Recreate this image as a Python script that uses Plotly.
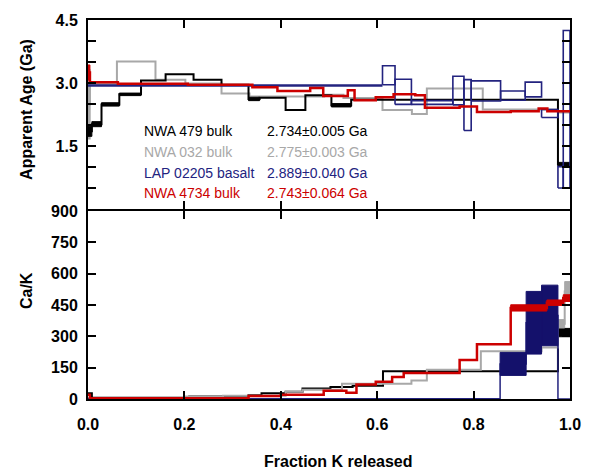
import plotly.graph_objects as go

# ---- Apparent age spectra (cumulative fraction of K released, age in Ga, 1-sigma half-height) ----
nwa479_f = [0, 0.008, 0.028, 0.065, 0.110, 0.161, 0.219, 0.277, 0.333, 0.356, 0.410, 0.451, 0.505, 0.546, 0.975, 1.0]
nwa479_age = [1.85, 2.02, 2.49, 2.73, 3.06, 3.21, 3.08, 2.96, 2.62, 2.65, 2.36, 2.71, 2.47, 2.60, 1.06]
nwa479_err = [0.12, 0.06, 0.04, 0.03, 0.02, 0.02, 0.02, 0.02, 0.04, 0.02, 0.02, 0.02, 0.04, 0.01, 0.05]

nwa032_f = [0, 0.004, 0.060, 0.140, 0.202, 0.277, 0.335, 0.490, 0.530, 0.611, 0.672, 0.703, 0.819, 0.975, 1.0]
nwa032_age = [2.49, 2.98, 3.51, 3.08, 2.99, 2.75, 2.68, 2.72, 2.64, 2.36, 2.26, 2.87, 2.37, 2.30]
nwa032_err = [0.82, 0.01, 0.01, 0.01, 0.01, 0.01, 0.01, 0.01, 0.01, 0.01, 0.01, 0.01, 0.01, 0.01]

lap02205_f = [0, 0.611, 0.637, 0.671, 0.757, 0.780, 0.795, 0.856, 0.907, 0.941, 0.975, 0.986, 1.0]
lap02205_age = [2.94, 3.185, 2.79, 2.535, 2.82, 2.475, 2.81, 2.70, 2.845, 2.275, 0.755, 2.375]
lap02205_err = [0.0, 0.225, 0.30, 0.045, 0.34, 0.605, 0.24, 0.11, 0.175, 0.095, 0.255, 1.875]

nwa4734_f = [0, 0.004, 0.062, 0.207, 0.341, 0.393, 0.461, 0.488, 0.539, 0.553, 0.597, 0.634, 0.679, 0.699,
             0.771, 0.807, 0.877, 0.935, 0.953, 1.0]
nwa4734_age = [3.25, 3.02, 2.98, 2.96, 2.90, 2.81, 2.88, 2.69, 2.83, 2.59, 2.66, 2.73, 2.71, 2.41, 2.44,
               2.31, 2.33, 2.39, 2.33]
nwa4734_err = [0.18, 0.01, 0.01, 0.01, 0.01, 0.01, 0.01, 0.01, 0.01, 0.01, 0.01, 0.01, 0.01, 0.01, 0.01,
               0.01, 0.01, 0.01, 0.01]

# ---- Ca/K spectra ----
nwa479_cak_f = [0, 0.008, 0.21, 0.333, 0.36, 0.41, 0.445, 0.503, 0.549, 0.612, 0.975, 1.0]
nwa479_cak = [27, 6, 12, 18, 28, 35, 50, 58, 64, 133, 318]
nwa479_cak_err = [0, 0, 0, 0, 0, 0, 0, 0, 0, 0, 20]

nwa032_cak_f = [0, 0.2, 0.28, 0.41, 0.445, 0.527, 0.671, 0.703, 0.815, 0.941, 0.975, 0.989, 1.0]
nwa032_cak = [5, 12, 16, 35, 44, 73, 89, 140, 228, 246, 360, 515]
nwa032_cak_err = [0, 0, 0, 0, 0, 0, 0, 0, 0, 0, 20, 47]

lap02205_cak_f = [0, 0.855, 0.909, 0.941, 0.975, 1.0]
lap02205_cak = [1, 168, 365, 400, 0]
lap02205_cak_err = [0, 55, 150, 145, 0]

nwa4734_cak_f = [0, 0.004, 0.333, 0.40, 0.489, 0.536, 0.557, 0.597, 0.631, 0.655, 0.771, 0.807, 0.877,
                 0.952, 0.986, 1.0]
nwa4734_cak = [20, 3, 14, 20, 39, 30, 69, 82, 105, 124, 187, 262, 436, 461, 483]
nwa4734_cak_err = [0, 0, 0, 0, 0, 0, 0, 0, 0, 0, 0, 0, 15, 13, 16]

# ---- Labels ----
sample_names = ["NWA 479 bulk", "NWA 032 bulk", "LAP 02205 basalt", "NWA 4734 bulk"]
plateau_ages = ["2.734±0.005 Ga", "2.775±0.003 Ga", "2.889±0.040 Ga", "2.743±0.064 Ga"]
x_ticks = [0.0, 0.2, 0.4, 0.6, 0.8, 1.0]
age_ticks = [0, 0.5, 1.0, 1.5, 2.0, 2.5, 3.0, 3.5, 4.0, 4.5]
age_labels = ["", "", "", "1.5", "", "", "3.0", "", "", "4.5"]
cak_ticks = [0, 150, 300, 450, 600, 750, 900]

BLACK = "#000000"
GRAY = "#a8a8a8"
NAVY = "#23237f"
NAVY_FILL = "#14116b"
RED = "#cc0000"

ARIAL = "Liberation Sans, Arial, sans-serif"


def steps(edges, vals):
    return list(edges), list(vals) + [vals[-1]]


def boxes(edges, vals, errs, min_err):
    xs, ys = [], []
    for i, v in enumerate(vals):
        e = errs[i]
        if e < min_err:
            continue
        x0, x1 = edges[i], edges[i + 1]
        xs += [x0, x1, x1, x0, x0, None]
        ys += [v - e, v - e, v + e, v + e, v - e, None]
    return xs, ys


fig = go.Figure()


def add_step(edges, vals, color, width, xa, ya):
    x, y = steps(edges, vals)
    fig.add_trace(go.Scatter(x=x, y=y, mode="lines", line=dict(color=color, width=width, shape="hv"),
                             xaxis=xa, yaxis=ya, hoverinfo="skip"))


def add_boxes(edges, vals, errs, min_err, color, width, xa, ya, fill=None):
    x, y = boxes(edges, vals, errs, min_err)
    if not x:
        return
    kw = {}
    if fill:
        kw = dict(fill="toself", fillcolor=fill)
    fig.add_trace(go.Scatter(x=x, y=y, mode="lines", line=dict(color=color, width=width),
                             xaxis=xa, yaxis=ya, hoverinfo="skip", **kw))


# Top panel: apparent age spectra
add_step(nwa032_f, nwa032_age, GRAY, 2, "x2", "y2")
add_boxes(nwa032_f, nwa032_age, nwa032_err, 0.1, GRAY, 1.5, "x2", "y2", fill=GRAY)
add_step(nwa479_f, nwa479_age, BLACK, 2, "x2", "y2")
add_boxes(nwa479_f, nwa479_age, nwa479_err, 0.03, BLACK, 1, "x2", "y2", fill=BLACK)
add_step(lap02205_f[:2], lap02205_age[:1], NAVY, 2.5, "x2", "y2")
add_boxes(lap02205_f, lap02205_age, lap02205_err, 0.01, NAVY, 1.6, "x2", "y2")
add_step(nwa4734_f, nwa4734_age, RED, 2.5, "x2", "y2")
add_boxes(nwa4734_f, nwa4734_age, nwa4734_err, 0.1, RED, 1, "x2", "y2", fill=RED)

# Bottom panel: Ca/K spectra
add_step(nwa479_cak_f, nwa479_cak, BLACK, 2, "x", "y")
add_boxes(nwa479_cak_f, nwa479_cak, nwa479_cak_err, 1, BLACK, 1, "x", "y", fill=BLACK)
add_step(nwa032_cak_f, nwa032_cak, GRAY, 2, "x", "y")
add_boxes(nwa032_cak_f, nwa032_cak, nwa032_cak_err, 1, GRAY, 1, "x", "y", fill=GRAY)
add_step(lap02205_cak_f, lap02205_cak, NAVY, 1.5, "x", "y")
add_boxes(lap02205_cak_f, lap02205_cak, lap02205_cak_err, 1, NAVY_FILL, 1, "x", "y", fill=NAVY_FILL)
add_step(nwa4734_cak_f, nwa4734_cak, RED, 2.5, "x", "y")
add_boxes(nwa4734_cak_f, nwa4734_cak, nwa4734_cak_err, 1, RED, 1, "x", "y", fill=RED)

# Sample key with plateau ages
key_colors = [BLACK, GRAY, NAVY, RED]
key_y = [1.86, 1.35, 0.86, 0.37]
for name, age, col, ky in zip(sample_names, plateau_ages, key_colors, key_y):
    fig.add_annotation(x=0.112, y=ky, xref="x2", yref="y2", text=name, showarrow=False,
                       xanchor="left", yanchor="middle", font=dict(family=ARIAL, size=14, color=col))
    fig.add_annotation(x=0.367, y=ky, xref="x2", yref="y2", text=age, showarrow=False,
                       xanchor="left", yanchor="middle", font=dict(family=ARIAL, size=14, color=col))

# Axis titles
fig.add_annotation(x=0.519, y=-0.164, xref="paper", yref="paper", text="Fraction K released",
                   showarrow=False, xanchor="center", yanchor="middle",
                   font=dict(family=ARIAL, size=16, color=BLACK, weight="bold"))
fig.add_annotation(x=-0.129, y=0.765, xref="paper", yref="paper", text="Apparent Age (Ga)",
                   showarrow=False, textangle=-90, xanchor="center", yanchor="middle",
                   font=dict(family=ARIAL, size=16, color=BLACK, weight="bold"))
fig.add_annotation(x=-0.129, y=0.287, xref="paper", yref="paper", text="Ca/K",
                   showarrow=False, textangle=-90, xanchor="center", yanchor="middle",
                   font=dict(family=ARIAL, size=16, color=BLACK, weight="bold"))

# Panels separated by a 2 px gap so that the two frame lines fall on the same row
split = 0.4987
gap = 1.0 / 383
axis_common = dict(showline=True, linecolor=BLACK, linewidth=2, mirror="ticks", ticks="inside",
                   ticklen=8, tickwidth=1.5, tickcolor=BLACK, showgrid=False, zeroline=False,
                   tickfont=dict(family=ARIAL, size=16, color=BLACK, weight="bold"))

fig.update_layout(
    width=593, height=474,
    margin=dict(l=88, r=16, t=16, b=75),
    paper_bgcolor="white", plot_bgcolor="white",
    showlegend=False,
    xaxis=dict(domain=[0, 1], range=[0, 1], anchor="y", tickvals=x_ticks,
               ticktext=[f"{v:.1f}" for v in x_ticks], ticklabelstandoff=10, **axis_common),
    xaxis2=dict(domain=[0, 1], range=[0, 1], anchor="y2", matches="x", tickvals=x_ticks,
                showticklabels=False, **axis_common),
    yaxis=dict(domain=[0, split - gap], range=[0, 900], anchor="x", tickvals=cak_ticks,
               ticktext=[str(v) for v in cak_ticks], ticklabelstandoff=5, **axis_common),
    yaxis2=dict(domain=[split + gap, 1], range=[0, 4.5], anchor="x2", tickvals=age_ticks,
                ticktext=age_labels, ticklabelstandoff=5, **axis_common),
)

fig.write_html("out.html")
